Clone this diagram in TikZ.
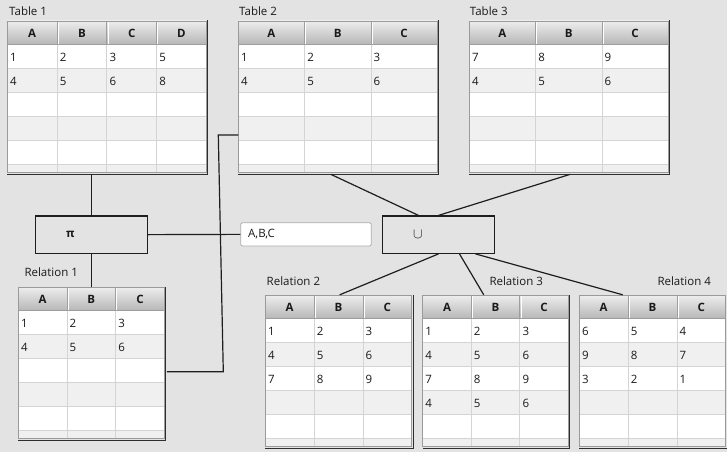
\documentclass[tikz,border=0pt]{standalone}
\usepackage{fontspec}
\setmainfont{Open Sans}
\usetikzlibrary{calc}
\definecolor{bg}{HTML}{E3E3E3}
\definecolor{altrow}{HTML}{F0F0F0}
\definecolor{gridc}{HTML}{D4D4D4}
\definecolor{hdtop}{HTML}{EDEDED}
\definecolor{hdbot}{HTML}{B6B6B6}
\definecolor{hdsep}{HTML}{9E9E9E}
\definecolor{tborder}{HTML}{9A9A9A}
\definecolor{tshadow}{HTML}{2E2E2E}
\definecolor{ink}{HTML}{1A1A1A}
\definecolor{lnc}{HTML}{1E1E1E}
\definecolor{tfborder}{HTML}{ABABAB}

\tikzset{
 celltext/.style={anchor=west, inner sep=0pt, text=ink},
 hdtext/.style={inner sep=0pt, font=\fontsize{11.5}{14}\selectfont\bfseries, text=ink},
 lbl/.style={anchor=base west, inner sep=0pt, text=ink},
 conn/.style={draw=lnc, line width=1.2pt},
 opbox/.style={draw=lnc, line width=1.2pt, inner sep=0pt, minimum width=112pt, minimum height=37.3pt, text=ink},
 tfield/.style={draw=tfborder, fill=white, rounded corners=2pt, line width=0.8pt, inner sep=0pt, minimum width=130.6pt, minimum height=23.3pt, text=ink},
 tblframe/.style={inner sep=0pt, anchor=north west, draw=none},
}

\newcommand\dbtab[7]{%
 \begin{scope}[shift={(#2,#3)}]
  \pgfmathsetmacro\dbtw{#4*#5}
  \pgfmathtruncatemacro\dbnc{#5-1}
  \fill[white] (0,23.5) rectangle (\dbtw,151.5);
  \foreach \k in {1,3} \fill[altrow] (0,23.5+24*\k) rectangle (\dbtw,47.5+24*\k);
  \fill[altrow] (0,143.5) rectangle (\dbtw,151.5);
  \foreach \k in {1,...,5} \draw[gridc, line width=0.8pt] (0,23.5+24*\k) -- (\dbtw,23.5+24*\k);
  \foreach \k in {1,...,\dbnc} \draw[gridc, line width=0.8pt] (#4*\k,23.5) -- (#4*\k,151.5);
  \shade[top color=hdtop, bottom color=hdbot] (0,0) rectangle (\dbtw,23.5);
  \foreach \k in {1,...,\dbnc} {\draw[hdsep, line width=0.8pt] (#4*\k,0) -- (#4*\k,23.5); \draw[white, line width=0.6pt] (#4*\k+1,0.5) -- (#4*\k+1,23);}
  \draw[hdsep, line width=0.8pt] (0,23.5) -- (\dbtw,23.5);
  \foreach \h [count=\j from 0] in {#6} \node[hdtext] at (#4*\j+#4/2,12.5) {\h};
  \foreach \row [count=\i from 0] in {#7} {\foreach \v [count=\j from 0] in \row {\node[celltext] at (#4*\j+2.5,36.5+24*\i) {\v};}}
  \draw[tborder, line width=0.8pt] (0,0) rectangle (\dbtw,151.5);
  \draw[tshadow, line width=1pt] (\dbtw+1.5,-0.5) -- (\dbtw+1.5,153) -- (0,153);
  \node[tblframe, minimum width=\dbtw+2, minimum height=153.5] (#1) at (0,-0.5) {};
 \end{scope}}

\begin{document}
\begin{tikzpicture}[x=1pt,y=-1pt,font=\fontsize{11.5}{14}\selectfont]
\fill[bg] (0,0) rectangle (727,452);
\useasboundingbox (0,0) rectangle (727,452);

\dbtab{t1}{7.3}{21}{49.75}{4}{A,B,C,D}{{1,2,3,5},{4,5,6,8}}
\dbtab{t2}{238.3}{21}{66.3}{3}{A,B,C}{{1,2,3},{4,5,6}}
\dbtab{t3}{469.3}{21}{66.3}{3}{A,B,C}{{7,8,9},{4,5,6}}
\dbtab{r1}{18.3}{287.3}{48.7}{3}{A,B,C}{{1,2,3},{4,5,6}}
\dbtab{r2}{265.3}{295.3}{48.8}{3}{A,B,C}{{1,2,3},{4,5,6},{7,8,9}}
\dbtab{r3}{422.7}{295.3}{48.55}{3}{A,B,C}{{1,2,3},{4,5,6},{7,8,9},{4,5,6}}
\dbtab{r4}{579.3}{295.3}{48.8}{3}{A,B,C}{{6,5,4},{9,8,7},{3,2,1}}

\node[lbl] (l1) at (9,16) {Table 1};
\node[lbl] (l2) at (239,16) {Table 2};
\node[lbl] (l3) at (469.7,16) {Table 3};
\node[lbl] (lr1) at (24.3,276.5) {Relation 1};
\node[lbl] (lr2) at (266.5,285) {Relation 2};
\node[lbl] (lr3) at (489.3,285) {Relation 3};
\node[lbl] (lr4) at (657.3,285) {Relation 4};

\node[opbox] (pi) at (91.6,234.65) {\makebox[112pt][l]{\hspace{30.5pt}\raisebox{-1pt}{\bfseries π}}};
\node[opbox] (un) at (438.5,234.65) {\makebox[112pt][l]{\hspace{30.5pt}\raisebox{-1pt}{\fontsize{15.5}{16}\selectfont$\cup$}}};
\node[tfield] (tf) at (306,234.35) {\makebox[130.6pt][l]{\hspace{7.5pt}A,B,C}};

\coordinate (b1) at ($(t2.north west)+(-20,114.5)$);
\coordinate (b2) at ($(r1.north east)+(56.5,85)$);

\draw[conn] (pi.north |- t1.south) -- (pi.north);
\draw[conn] (pi.south) -- (pi.south |- r1.north);
\draw[conn] (pi.east) -- (tf.west);
\draw[conn] (t2.west |- b1) -- (b1) -- (b2) -- (r1.east |- b2);
\draw[conn] ($(t2.south)+(-8,0)$) -- ($(un.north)+(-20,0)$);
\draw[conn] (t3.south) -- (un.north);
\draw[conn] (un.south) -- (r2.north);
\draw[conn] ($(un.south)+(21,0)$) -- ($(r3.north)+(-13,0)$);
\draw[conn] ($(un.south)+(37,0)$) -- ($(r4.north)+(-31,0)$);
\end{tikzpicture}
\end{document}
